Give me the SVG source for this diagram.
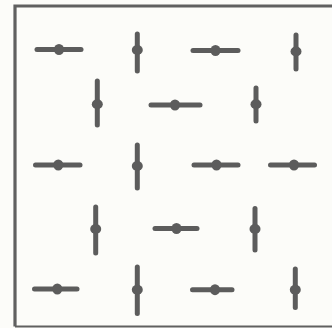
<svg xmlns="http://www.w3.org/2000/svg" width="332" height="328" viewBox="0 0 332 328">
<style>
.bar{stroke:#5c5c5c;stroke-width:5;stroke-linecap:round;fill:none}
.dot{fill:#5c5c5c}
.frame{stroke:#606060;fill:none}
</style>
<rect width="332" height="328" fill="#fcfcf9"/>
<g id="frame">
<path class="frame" d="M340,6 H15 V326.5" stroke-width="3.2"/>
<path class="frame" d="M15,326.5 H340" stroke-width="2"/>
</g>
<g id="n1"><line class="bar" x1="37" y1="49.5" x2="81" y2="49.5"/><ellipse class="dot" cx="59" cy="49.5" rx="5" ry="5.5"/></g>
<g id="n2"><line class="bar" x1="137.3" y1="34" x2="137.3" y2="71"/><ellipse class="dot" cx="137.3" cy="50" rx="5.5" ry="5"/></g>
<g id="n3"><line class="bar" x1="193" y1="50.5" x2="238" y2="50.5"/><ellipse class="dot" cx="215.5" cy="50.5" rx="5" ry="5.5"/></g>
<g id="n4"><line class="bar" x1="296" y1="35" x2="296" y2="69"/><ellipse class="dot" cx="296" cy="51.5" rx="5.5" ry="5"/></g>
<g id="n5"><line class="bar" x1="97.3" y1="81" x2="97.3" y2="125"/><ellipse class="dot" cx="97.3" cy="104.3" rx="5.5" ry="5"/></g>
<g id="n6"><line class="bar" x1="151" y1="105" x2="200" y2="105"/><ellipse class="dot" cx="175" cy="105" rx="5" ry="5.5"/></g>
<g id="n7"><line class="bar" x1="256" y1="88" x2="256" y2="121"/><ellipse class="dot" cx="256" cy="104.3" rx="5.5" ry="5"/></g>
<g id="n8"><line class="bar" x1="35.5" y1="165" x2="80" y2="165"/><ellipse class="dot" cx="58.3" cy="165" rx="5" ry="5.5"/></g>
<g id="n9"><line class="bar" x1="137.3" y1="145" x2="137.3" y2="188"/><ellipse class="dot" cx="137.3" cy="166" rx="5.5" ry="5"/></g>
<g id="n10"><line class="bar" x1="194" y1="165" x2="238" y2="165"/><ellipse class="dot" cx="216.5" cy="165" rx="5" ry="5.5"/></g>
<g id="n11"><line class="bar" x1="270.5" y1="165" x2="314.5" y2="165"/><ellipse class="dot" cx="294" cy="165" rx="5" ry="5.5"/></g>
<g id="n12"><line class="bar" x1="95.7" y1="207" x2="95.7" y2="253"/><ellipse class="dot" cx="95.7" cy="229" rx="5.5" ry="5"/></g>
<g id="n13"><line class="bar" x1="155" y1="228.5" x2="197" y2="228.5"/><ellipse class="dot" cx="176.5" cy="228.5" rx="5" ry="5.5"/></g>
<g id="n14"><line class="bar" x1="255" y1="208.5" x2="255" y2="250"/><ellipse class="dot" cx="255" cy="229" rx="5.5" ry="5"/></g>
<g id="n15"><line class="bar" x1="34.5" y1="289" x2="77" y2="289"/><ellipse class="dot" cx="57.3" cy="289" rx="5" ry="5.5"/></g>
<g id="n16"><line class="bar" x1="137.3" y1="267" x2="137.3" y2="313.5"/><ellipse class="dot" cx="137.3" cy="289.7" rx="5.5" ry="5"/></g>
<g id="n17"><line class="bar" x1="192.5" y1="289.7" x2="232" y2="289.7"/><ellipse class="dot" cx="215" cy="289.7" rx="5" ry="5.5"/></g>
<g id="n18"><line class="bar" x1="295.3" y1="269" x2="295.3" y2="307.5"/><ellipse class="dot" cx="295.3" cy="289.7" rx="5.5" ry="5"/></g>
<g id="connectors"></g>
</svg>
